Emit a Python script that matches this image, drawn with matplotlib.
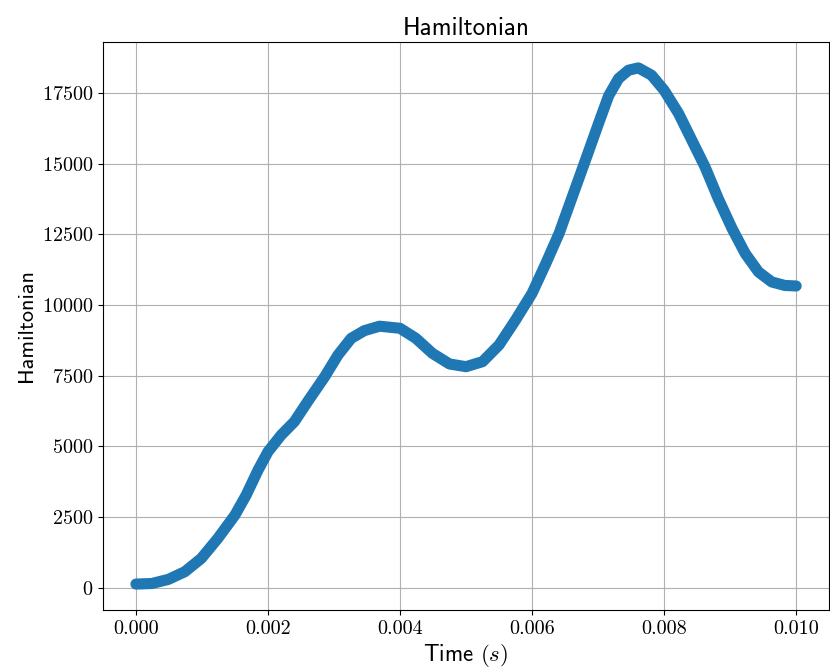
import matplotlib
matplotlib.use("Agg")
import matplotlib.pyplot as plt
from matplotlib.ticker import FuncFormatter

# time (s) and Hamiltonian
time = [0.0, 0.00024, 0.00049, 0.00074, 0.00099, 0.00124, 0.0015,
        0.00167, 0.00185, 0.002, 0.0022, 0.0024, 0.0026, 0.00286,
        0.00306, 0.00326, 0.00346, 0.00369, 0.004, 0.00424, 0.00449,
        0.00475, 0.005, 0.00525, 0.0055, 0.00575, 0.006, 0.00621,
        0.00641, 0.00661, 0.00681, 0.00701, 0.00716, 0.00731, 0.00746,
        0.00761, 0.00781, 0.008, 0.00822, 0.00842, 0.00862, 0.00882,
        0.00903, 0.00923, 0.00943, 0.00963, 0.00983, 0.01]
hamiltonian = [130, 150, 295, 566, 1038, 1745, 2570,
               3278, 4163, 4811, 5400, 5873, 6580, 7465,
               8230, 8820, 9092, 9250, 9175, 8821, 8290,
               7913, 7818, 7995, 8585, 9469, 10413, 11474,
               12535, 13833, 15130, 16440, 17400, 18007, 18302,
               18384, 18125, 17594, 16769, 15825, 14882, 13762,
               12700, 11816, 11167, 10814, 10690, 10672]

plt.rcParams["mathtext.fontset"] = "cm"
plt.rcParams["axes.formatter.use_mathtext"] = True

fig, ax = plt.subplots(figsize=(8.3, 6.68), dpi=100)
fig.subplots_adjust(left=0.124, right=0.999, top=0.937, bottom=0.087)

ax.plot(time, hamiltonian, color="C0", linewidth=8, solid_capstyle="round",
        solid_joinstyle="round")
ax.grid(True)

ax.set_title("Hamiltonian", family="cmss10", fontsize=18, pad=5)
ax.set_xlabel("Time $(s)$", family="cmss10", fontsize=16.5, labelpad=3)
ax.set_ylabel("Hamiltonian", family="cmss10", fontsize=16)

ax.xaxis.set_major_formatter(FuncFormatter(lambda v, p: f"{v:.3f}"))
ax.tick_params(labelsize=14.5)
for lbl in ax.get_xticklabels() + ax.get_yticklabels():
    lbl.set_family("cmr10")

fig.savefig("out.png", dpi=100)
